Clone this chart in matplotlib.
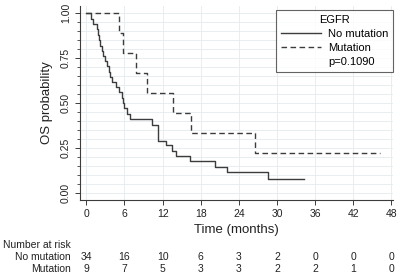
import matplotlib
matplotlib.use("Agg")
import matplotlib.pyplot as plt
import matplotlib.transforms as mtransforms
from matplotlib.lines import Line2D
import numpy as np

plt.rcParams['font.family'] = ['Liberation Sans', 'DejaVu Sans']

# step curves (time in months, survival after the step)
t_nomut = [0, 0.7, 1.1, 1.6, 1.9, 2.0, 2.2, 2.4, 2.6, 2.9, 3.2, 3.5, 3.7, 4.1, 4.6,
           5.1, 5.6, 5.8, 5.95, 6.4, 6.9, 10.4, 11.2, 12.6, 13.5, 14.1, 16.3, 20.2,
           22.1, 28.6, 34.2]
s_nomut = [1.0, 0.97, 0.94, 0.91, 0.88, 0.85, 0.82, 0.79, 0.765, 0.735, 0.705, 0.675,
           0.645, 0.62, 0.59, 0.56, 0.53, 0.50, 0.47, 0.44, 0.41, 0.38, 0.29, 0.265,
           0.235, 0.205, 0.175, 0.145, 0.115, 0.075, 0.075]
t_mut = [0, 5.1, 5.8, 7.8, 9.5, 13.6, 16.5, 26.6, 46.3]
s_mut = [1.0, 0.89, 0.78, 0.67, 0.555, 0.445, 0.335, 0.22, 0.22]

risk_times = [0, 6, 12, 18, 24, 30, 36, 42, 48]
risk_nomut = [34, 16, 10, 6, 3, 2, 0, 0, 0]
risk_mut = [9, 7, 5, 3, 3, 2, 2, 1, 0]

line_col = '#3c3c3c'
grid_col = '#e8eef0'

fig = plt.figure(figsize=(4.0, 2.78), dpi=100)
ax = fig.add_axes([0.2, 0.281, 0.783, 0.697])

ax.step(t_nomut, s_nomut, where='post', color=line_col, lw=1.0)
ax.step(t_mut, s_mut, where='post', color=line_col, lw=1.0, linestyle=(0, (4, 2.5)))

ax.set_xlim(-1.0, 48.3)
ax.set_ylim(-0.039, 1.04)
ax.set_xticks(risk_times)
ax.set_yticks([0, 0.25, 0.5, 0.75, 1.0])
ax.set_yticklabels(['0.00', '0.25', '0.50', '0.75', '1.00'], rotation=90, va='center')
ax.set_yticks(np.arange(0, 1.001, 0.05), minor=True)

ax.grid(True, which='both', axis='y', color=grid_col, lw=0.7)
ax.grid(True, which='major', axis='x', color=grid_col, lw=0.7)
ax.set_axisbelow(True)

for sp in ['top', 'right']:
    ax.spines[sp].set_visible(False)
for sp in ['left', 'bottom']:
    ax.spines[sp].set_color(line_col)
    ax.spines[sp].set_linewidth(0.8)

ax.tick_params(axis='both', which='major', length=3.5, width=0.7, color=line_col,
               labelsize=7.5, labelcolor='#222222', pad=3)
ax.tick_params(axis='y', which='minor', length=2, width=0.6, color=line_col)

ax.set_xlabel('Time (months)', fontsize=9.5, color='#222222', labelpad=4)
ax.set_ylabel('OS probability', fontsize=9.5, color='#222222', labelpad=6)

handles = [Line2D([], [], color=line_col, lw=1.0),
           Line2D([], [], color=line_col, lw=1.0, linestyle=(0, (4, 2.5))),
           Line2D([], [], color='none')]
leg = ax.legend(handles, ['No mutation', 'Mutation', 'p=0.1090'], title='EGFR',
                loc='upper right', bbox_to_anchor=(1.0, 0.979), borderaxespad=0,
                fontsize=8, title_fontsize=8, frameon=True, fancybox=False,
                handlelength=3.6, borderpad=0.45, labelspacing=0.35,
                handletextpad=0.6)
leg.get_frame().set_edgecolor(line_col)
leg.get_frame().set_linewidth(0.8)

# number at risk table
trans = mtransforms.blended_transform_factory(ax.transData, fig.transFigure)
fig.text(0.007, 1 - 245 / 278, 'Number at risk', fontsize=7.5, color='#222222',
         va='center', ha='left')
fig.text(0.177, 1 - 257 / 278, 'No mutation', fontsize=7.5, color='#222222',
         va='center', ha='right')
fig.text(0.177, 1 - 269.5 / 278, 'Mutation', fontsize=7.5, color='#222222',
         va='center', ha='right')
for t, a, b in zip(risk_times, risk_nomut, risk_mut):
    ax.text(t, 1 - 257 / 278, str(a), transform=trans, fontsize=7.5,
            color='#222222', ha='center', va='center')
    ax.text(t, 1 - 269.5 / 278, str(b), transform=trans, fontsize=7.5,
            color='#222222', ha='center', va='center')

fig.savefig('out.png', dpi=100, facecolor='white')
